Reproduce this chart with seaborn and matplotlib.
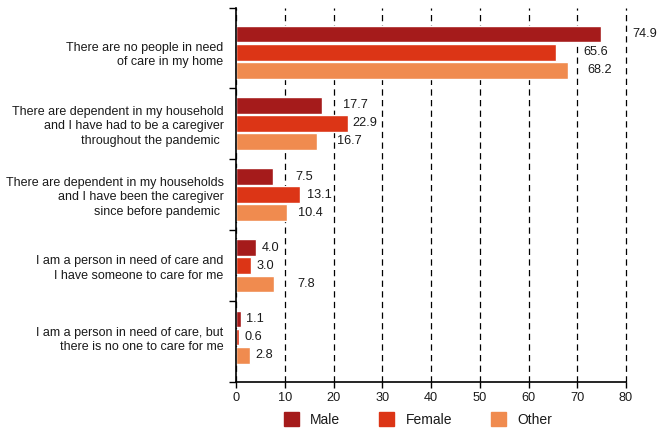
import matplotlib.pyplot as plt
import matplotlib.patches as mpatches
import pandas as pd
import seaborn as sns

# data
CATEGORIES = [
    "There are no people in need\nof care in my home",
    "There are dependent in my household\nand I have had to be a caregiver\nthroughout the pandemic ",
    "There are dependent in my households\nand I have been the caregiver\nsince before pandemic ",
    "I am a person in need of care and\nI have someone to care for me",
    "I am a person in need of care, but\nthere is no one to care for me",
]
GROUPS = ["Male", "Female", "Other"]
MALE = [74.9, 17.7, 7.5, 4.0, 1.1]
FEMALE = [65.6, 22.9, 13.1, 3.0, 0.6]
OTHER = [68.2, 16.7, 10.4, 7.8, 2.8]

# label offsets (pixels) from bar end, as placed in the original
PAD_MALE = [31, 21, 23, 6, 5]
PAD_FEMALE = [28, 5, 7, 6, 6]
PAD_OTHER = [19, 20, 11, 23, 6]

COLORS = ["#A51B1B", "#DC3516", "#F08B4F"]


def get_data() -> pd.DataFrame:
    rows = []
    for grp, vals in zip(GROUPS, [MALE, FEMALE, OTHER]):
        for cat, v in zip(CATEGORIES, vals):
            rows.append({"category": cat, "group": grp, "value": v})
    return pd.DataFrame(rows)


def plot_chart() -> None:
    df = get_data()
    sns.set_style("ticks")
    plt.rcParams["font.family"] = ["Liberation Sans", "DejaVu Sans"]
    plt.rcParams["text.color"] = "#1a1a1a"

    fig = plt.figure(figsize=(6.58, 4.29), dpi=100)
    ax = fig.add_axes([0.3587, 0.1096, 0.5927, 0.8718])

    sns.barplot(
        data=df, y="category", x="value", hue="group", hue_order=GROUPS,
        palette=COLORS, orient="h", width=0.76, gap=0.07, legend=False,
        saturation=1, ax=ax,
    )

    for container, pads in zip(ax.containers, [PAD_MALE, PAD_FEMALE, PAD_OTHER]):
        for bar, pad in zip(container, pads):
            w = bar.get_width()
            ax.annotate(
                f"{w:.1f}", (w, bar.get_y() + bar.get_height() / 2),
                xytext=(pad, 0), textcoords="offset pixels",
                ha="left", va="center", fontsize=9.2, color="#1a1a1a",
                annotation_clip=False,
            )

    ax.set_xlim(0, 80)
    ax.set_xticks(range(0, 81, 10))
    ax.set_ylim(4.63, -0.62)
    ax.set_yticks([-0.62, 0.5, 1.5, 2.5, 3.5, 4.63], labels=[""] * 6)
    ax.set_yticks(range(len(CATEGORIES)), labels=CATEGORIES, minor=True)
    ax.tick_params(axis="y", which="minor", length=0, pad=9, labelsize=9,
                   labelcolor="#1a1a1a")
    ax.tick_params(axis="y", which="major", length=5, width=1, color="black")
    ax.tick_params(axis="x", length=4, width=1, color="black", labelsize=9.2,
                   pad=3, labelcolor="#1a1a1a")
    for lbl in ax.get_yticklabels(minor=True):
        lbl.set_horizontalalignment("right")
        lbl.set_linespacing(1.3)
    ax.set_xlabel("")
    ax.set_ylabel("")

    ax.xaxis.grid(True, linestyle=(0, (5, 3.5)), color="black", linewidth=0.9)
    for line in ax.get_xgridlines():
        line.set_clip_on(False)
    ax.set_axisbelow(True)
    sns.despine(ax=ax, top=True, right=True)
    for side in ["left", "bottom"]:
        ax.spines[side].set_color("black")
        ax.spines[side].set_linewidth(1.2)

    handles = [mpatches.Patch(color=c, label=g) for g, c in zip(GROUPS, COLORS)]
    fig.legend(
        handles=handles, loc="center", bbox_to_anchor=(0.635, 0.022), ncol=3,
        frameon=False, fontsize=10, handlelength=1.1, handleheight=1.1,
        handletextpad=0.8, columnspacing=2.8,
    )

    fig.savefig("out.png", dpi=100)


if __name__ == "__main__":
    plot_chart()
